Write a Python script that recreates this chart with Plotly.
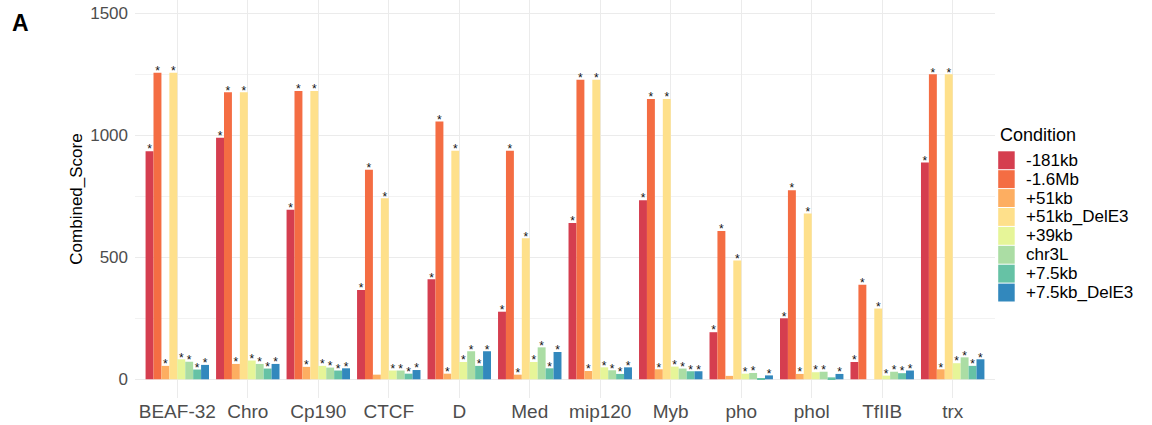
import plotly.graph_objects as go

genes = ["BEAF-32", "Chro", "Cp190", "CTCF", "D", "Med", "mip120", "Myb",
         "pho", "phol", "TfIIB", "trx"]
conditions = ["-181kb", "-1.6Mb", "+51kb", "+51kb_DelE3", "+39kb", "chr3L",
              "+7.5kb", "+7.5kb_DelE3"]
colors = ["#D53E4F", "#F46D43", "#FDAE61", "#FEE08B", "#E6F598", "#ABDDA4",
          "#66C2A5", "#3288BD"]

# Combined_Score per condition (one value per gene, in gene order)
score_m181kb = [935, 990, 695, 366, 410, 277, 641, 734, 193, 250, 71, 889]
score_m1_6Mb = [1256, 1176, 1182, 859, 1057, 937, 1228, 1149, 608, 775, 387, 1250]
score_p51kb = [55, 63, 51, 19, 23, 19, 34, 41, 14, 22, 0, 41]
score_p51kb_DelE3 = [1256, 1176, 1182, 742, 937, 578, 1228, 1149, 487, 680, 290, 1250]
score_p39kb = [82, 77, 55, 36, 71, 71, 49, 52, 23, 29, 15, 66]
score_chr3L = [72, 63, 48, 36, 115, 131, 37, 44, 26, 31, 31, 90]
score_p7_5kb = [40, 44, 36, 23, 55, 45, 22, 33, 4, 8, 25, 55]
score_p7_5kb_DelE3 = [59, 63, 45, 38, 115, 112, 49, 33, 16, 22, 36, 82]

# significance marks ("*" = significant)
sig_m181kb = ["*"] * 12
sig_m1_6Mb = ["*"] * 12
sig_p51kb = ["*", "*", "*", "", "*", "*", "*", "*", "", "*", "", "*"]
sig_p51kb_DelE3 = ["*"] * 12
sig_p39kb = ["*"] * 12
sig_chr3L = ["*"] * 12
sig_p7_5kb = ["*", "*", "*", "*", "*", "*", "*", "*", "", "", "*", "*"]
sig_p7_5kb_DelE3 = ["*"] * 12

scores = [score_m181kb, score_m1_6Mb, score_p51kb, score_p51kb_DelE3,
          score_p39kb, score_chr3L, score_p7_5kb, score_p7_5kb_DelE3]
sigs = [sig_m181kb, sig_m1_6Mb, sig_p51kb, sig_p51kb_DelE3,
        sig_p39kb, sig_chr3L, sig_p7_5kb, sig_p7_5kb_DelE3]

FONT = "Liberation Sans, Arial, sans-serif"
n = len(conditions)
dodge = 0.9
w = dodge / n
nudge = 3  # data units above bar top for the star

fig = go.Figure()
for j, (cond, col, vals) in enumerate(zip(conditions, colors, scores)):
    xs = [i + (j - (n - 1) / 2) * w for i in range(len(genes))]
    fig.add_trace(go.Bar(
        x=xs, y=vals, width=w, name=cond,
        marker=dict(color=col, line=dict(width=0)),
        showlegend=False,
        hovertemplate=cond + ": %{y}<extra></extra>",
    ))
for j, (cond, vals, sg) in enumerate(zip(conditions, scores, sigs)):
    xs = [i + (j - (n - 1) / 2) * w for i in range(len(genes))]
    fig.add_trace(go.Scatter(
        x=xs, y=[v + nudge for v in vals], text=sg, mode="text",
        textposition="middle center",
        textfont=dict(family=FONT, size=12, color="#111111"),
        showlegend=False, hoverinfo="skip", cliponaxis=False,
    ))

W, H = 1152, 425
left, right_px = 135.4, 995.3
b = 27
px_per = 0.244
zero_px = 379.3
plot_h = H - b
ytop = zero_px / px_per
ybot = -(plot_h - zero_px) / px_per
plot_w = right_px - left


def px_x(px):
    return (px - left) / plot_w


def px_y(py):
    return 1 - py / plot_h


# manual legend (ggplot-style stacked keys)
key_x0, key_w = 998.5, 16.5
row0, row_h = 150.8, 18.9
shapes = []
annotations = []
for j, (cond, col) in enumerate(zip(conditions, colors)):
    y0 = row0 + j * row_h
    shapes.append(dict(
        type="rect", xref="paper", yref="paper",
        x0=px_x(key_x0), x1=px_x(key_x0 + key_w),
        y0=px_y(y0 + row_h - 0.5), y1=px_y(y0 + 0.5),
        fillcolor=col, line=dict(width=0), layer="above",
    ))
    annotations.append(dict(
        text=cond, xref="paper", yref="paper",
        x=px_x(key_x0 + key_w + 9.5), y=px_y(y0 + row_h / 2),
        xanchor="left", yanchor="middle", showarrow=False,
        font=dict(family=FONT, size=17, color="#000000"),
    ))
annotations.append(dict(
    text="Condition", xref="paper", yref="paper",
    x=px_x(998), y=px_y(135.5), xanchor="left", yanchor="middle",
    showarrow=False, font=dict(family=FONT, size=18, color="#000000"),
))
annotations.append(dict(
    text="<b>A</b>", xref="paper", yref="paper",
    x=px_x(10.5), y=px_y(23.5), xanchor="left", yanchor="middle", showarrow=False,
    font=dict(family=FONT, size=23, color="#000000"),
))

fig.update_layout(
    width=W, height=H,
    margin=dict(l=left, r=W - right_px, t=0, b=b, pad=0, autoexpand=False),
    paper_bgcolor="white", plot_bgcolor="white",
    barmode="overlay",
    font=dict(family=FONT, size=17, color="#000000"),
    showlegend=False,
    shapes=shapes,
    annotations=annotations,
    xaxis=dict(
        range=[-0.6, len(genes) - 1 + 0.6], automargin=False,
        tickmode="array", tickvals=list(range(len(genes))), ticktext=genes,
        showgrid=True, gridcolor="#EBEBEB", gridwidth=1,
        zeroline=False, showline=False, ticks="",
        tickfont=dict(family=FONT, size=19, color="#4D4D4D"),
    ),
    yaxis=dict(
        range=[ybot, ytop], automargin=False,
        tickmode="array", tickvals=[0, 500, 1000, 1500],
        ticklabeloverflow="allow", ticklabelstandoff=6,
        showgrid=True, gridcolor="#EBEBEB", gridwidth=1.1,
        minor=dict(tickmode="array", tickvals=[250, 750, 1250],
                   showgrid=True, gridcolor="#F2F2F2", gridwidth=0.6, ticks=""),
        zeroline=False, showline=False, ticks="",
        tickfont=dict(family=FONT, size=17, color="#4D4D4D"),
        title=dict(text="Combined_Score", font=dict(family=FONT, size=17, color="#000000"),
                   standoff=3),
    ),
)

fig.write_html("out.html", config={"displayModeBar": False},
               post_script="document.body.style.margin='0';")
